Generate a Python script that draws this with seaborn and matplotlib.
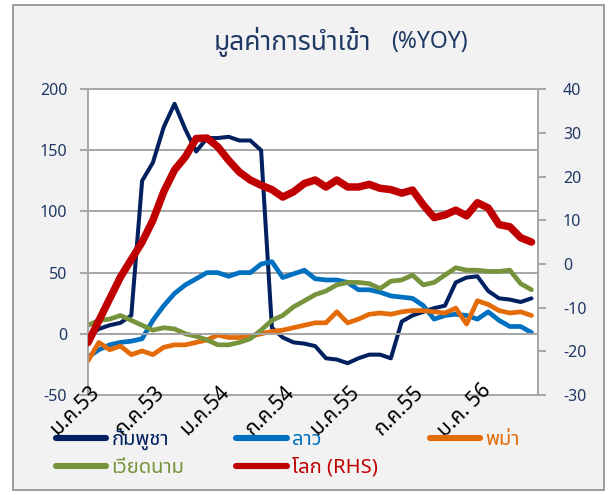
import numpy as np
import pandas as pd
import matplotlib
matplotlib.use('Agg')
import matplotlib.pyplot as plt
import matplotlib.transforms as mtransforms
from matplotlib.patches import Rectangle
from matplotlib.lines import Line2D
import seaborn as sns

sns.set_style('white')
plt.rcParams['font.family'] = ['Noto Sans Thai', 'Noto Sans Thai UI', 'Loma', 'Garuda',
                               'Tahoma', 'DejaVu Sans']

# %YOY รายเดือน ม.ค.53 - มิ.ย.56 (อ่านค่าจากกราฟ)
cambodia = [-2, 4, 7, 9, 15, 125, 140, 169, 188, 167, 149, 160, 160, 161, 158, 158, 150, 5,
            -3, -7, -8, -10, -20, -21, -24, -20, -17, -17, -20, 10, 15, 18, 21, 23, 42, 46,
            47, 35, 29, 28, 26, 29]
laos = [-19, -13, -9, -7, -6, -4, 11, 23, 33, 40, 45, 50, 50, 47, 50, 50, 57, 59, 46, 49,
        52, 45, 44, 44, 42, 36, 36, 34, 31, 30, 29, 23, 12, 15, 16, 15, 12, 18, 11, 6, 6, 1]
myanmar = [-22, -7, -13, -10, -17, -14, -17, -11, -9, -9, -7, -5, -1, -3, -3, -2, 0, 2, 3,
           5, 7, 9, 9, 18, 9, 12, 16, 17, 16, 18, 19, 19, 18, 17, 21, 8, 27, 24, 19, 17, 18, 15]
vietnam = [7, 11, 12, 15, 11, 7, 3, 5, 4, 0, -2, -5, -9, -9, -7, -4, 3, 11, 15, 22, 27, 32,
           35, 40, 42, 42, 41, 37, 43, 44, 48, 40, 42, 48, 54, 52, 52, 51, 51, 52, 41, 36]
world = [-18, -13, -8, -3, 1, 5, 10, 16.5, 21.5, 24.5, 28.7, 28.8, 26.8, 23.7, 21, 19.2, 18,
         17, 15.3, 16.5, 18.4, 19.2, 17.6, 19.2, 17.6, 17.6, 18.2, 17.3, 17, 16.2, 16.9, 13.5,
         10.6, 11.2, 12.3, 11, 14, 12.8, 9, 8.5, 6, 5]

period_labels = ['ม.ค.53', 'ก.ค.53', 'ม.ค.54', 'ก.ค.54', 'ม.ค.55', 'ก.ค.55', 'ม.ค. 56']
label_step = 6
left_ticks = [200, 150, 100, 50, 0, -50]
right_ticks = [40, 30, 20, 10, 0, -10, -20, -30]

names = ['กัมพูชา', 'ลาว', 'พม่า', 'เวียดนาม', 'โลก (RHS)']
colors = ['#002060', '#0070C0', '#E36C09', '#77933C', '#C00000']
widths = [2.9, 3.4, 3.4, 3.4, 5.4]

idx = np.arange(len(cambodia))
df = pd.DataFrame({'idx': idx, names[0]: cambodia, names[1]: laos, names[2]: myanmar,
                   names[3]: vietnam, names[4]: world})

navy = '#1F3864'
grey = '#A6A6A6'

fig = plt.figure(figsize=(6.13, 4.95), dpi=100, facecolor='white')
fig.patches.append(Rectangle((0.021, 0.01), 0.964, 0.98, transform=fig.transFigure,
                             facecolor='#F2F2F2', edgecolor='#8C8C8C', lw=1.2, zorder=-1))

ax = fig.add_axes([0.1436, 0.202, 0.734, 0.618])
ax.set_facecolor('white')
ax2 = ax.twinx()

for v in left_ticks:
    ax.axhline(v, color=grey, lw=1.4, zorder=0.5, clip_on=False)

for name, c, w in zip(names[:4], colors[:4], widths[:4]):
    sns.lineplot(data=df, x='idx', y=name, ax=ax, color=c, linewidth=w,
                 solid_capstyle='round', solid_joinstyle='round', legend=False)
sns.lineplot(data=df, x='idx', y=names[4], ax=ax2, color=colors[4], linewidth=widths[4],
             solid_capstyle='round', solid_joinstyle='round', legend=False)

ax.set_xlim(0, 41.6)
ax.set_ylim(-50, 200)
ax2.set_ylim(-30, 40)
ax.set_xlabel('')
ax.set_ylabel('')
ax2.set_ylabel('')
ax.set_yticks(left_ticks)
ax2.set_yticks(right_ticks)

for a in (ax, ax2):
    for s in a.spines.values():
        s.set_color(grey)
        s.set_linewidth(1.4)
    a.spines['top'].set_visible(False)
ax.spines['right'].set_visible(False)
ax2.spines['left'].set_visible(False)
ax2.spines['bottom'].set_visible(False)
ax.spines['bottom'].set_position(('data', 0))

ax.tick_params(axis='y', direction='out', length=6, width=1.4, color=grey,
               labelcolor=navy, labelsize=11.5, pad=9)
ax2.tick_params(axis='y', direction='out', length=6, width=1.4, color=grey,
                labelcolor=navy, labelsize=11.5, pad=12)
ax.set_xticks([])
ax.set_xticks(idx, minor=True)
ax.tick_params(axis='x', which='minor', direction='out', length=4.5, width=1.2, color=grey)

# ป้ายเดือน (หมุน 45 องศา) ใต้แกน
trans = mtransforms.blended_transform_factory(ax.transData, ax.transAxes)
trans = mtransforms.offset_copy(trans, fig=fig, x=-13, y=-16, units='dots')
for k, lab in enumerate(period_labels):
    ax.text(k * label_step, 0, lab, transform=trans, rotation=45, rotation_mode='anchor',
            ha='center', va='center', fontsize=15, color='black')

fig.text(0.605, 0.915, 'มูลค่าการนำเข้า', ha='right', va='center', fontsize=19, color=navy)
fig.text(0.638, 0.915, '(%YOY)', ha='left', va='center', fontsize=16.5, color=navy,
         style='italic')

order = [0, 3, 1, 4, 2]
handles = [Line2D([], [], color=colors[i], lw=4.4, solid_capstyle='round') for i in order]
leg = fig.legend(handles, [names[i] for i in order], loc='upper left',
                 bbox_to_anchor=(0.091, 0.133), ncol=3, frameon=False, fontsize=14.5,
                 handlelength=2.5, handletextpad=0.25, columnspacing=2.6, labelspacing=0.4,
                 borderaxespad=0, borderpad=0)
for t, i in zip(leg.get_texts(), order):
    t.set_color(colors[i])

fig.savefig('out.png', dpi=100, facecolor=fig.get_facecolor())
